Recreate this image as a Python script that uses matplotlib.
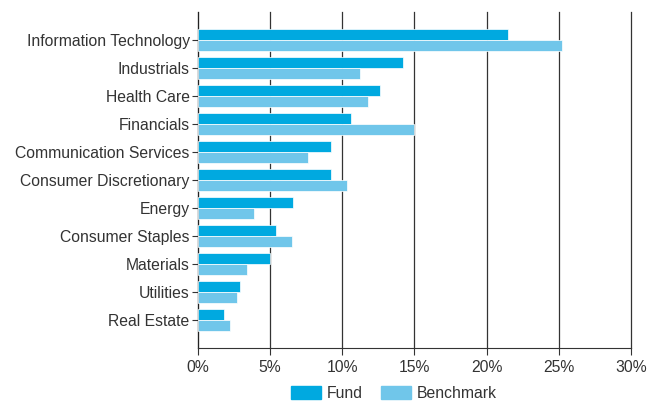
import numpy as np
import matplotlib
matplotlib.use("Agg")
import matplotlib.pyplot as plt
from matplotlib.patches import Patch
from matplotlib.ticker import PercentFormatter

plt.rcParams['font.family'] = ['Liberation Sans', 'DejaVu Sans']

sectors = ["Information Technology", "Industrials", "Health Care", "Financials",
           "Communication Services", "Consumer Discretionary", "Energy",
           "Consumer Staples", "Materials", "Utilities", "Real Estate"]
fund = [21.5, 14.2, 12.6, 10.6, 9.2, 9.2, 6.6, 5.4, 5.0, 2.9, 1.8]
benchmark = [25.2, 11.2, 11.8, 15.0, 7.6, 10.3, 3.9, 6.5, 3.4, 2.7, 2.2]

fund_color = "#00a9e0"
bench_color = "#70c6ea"
text_color = "#333333"
fs = 11.3

fig = plt.figure(figsize=(6.6, 4.05), dpi=100)
ax = fig.add_axes([0.30, 0.141, 0.656, 0.829])

y = np.arange(len(sectors))
h = 0.39
ax.barh(y - h / 2, fund, height=h, color=fund_color, edgecolor="white", linewidth=0.5, zorder=3)
ax.barh(y + h / 2, benchmark, height=h, color=bench_color, edgecolor="white", linewidth=0.5, zorder=3)

ax.set_ylim(len(sectors), -1)
ax.set_xlim(0, 30)
ax.set_yticks(y)
ax.set_yticklabels(sectors, fontsize=fs, color=text_color)
ax.set_xticks(np.arange(0, 31, 5))
ax.xaxis.set_major_formatter(PercentFormatter(decimals=0))
ax.tick_params(axis='x', labelsize=fs, labelcolor=text_color, length=5, color="#333333", pad=4)
ax.tick_params(axis='y', length=4, color="#333333", pad=2)

ax.grid(axis='x', color="#333333", linewidth=0.9, zorder=0)
for gl in ax.get_xgridlines():
    gl.set_clip_on(False)
for s in ["top", "right"]:
    ax.spines[s].set_visible(False)
ax.spines["left"].set_color("#222222")
ax.spines["bottom"].set_color("#333333")

handles = [Patch(color=fund_color, label="Fund"), Patch(color=bench_color, label="Benchmark")]
fig.legend(handles=handles, loc="lower center", bbox_to_anchor=(0.597, -0.025), ncol=2,
           frameon=False, fontsize=fs, handlelength=1.9, handleheight=0.9,
           columnspacing=1.15, handletextpad=0.4, labelcolor=text_color)

fig.savefig("out.png", dpi=100)
